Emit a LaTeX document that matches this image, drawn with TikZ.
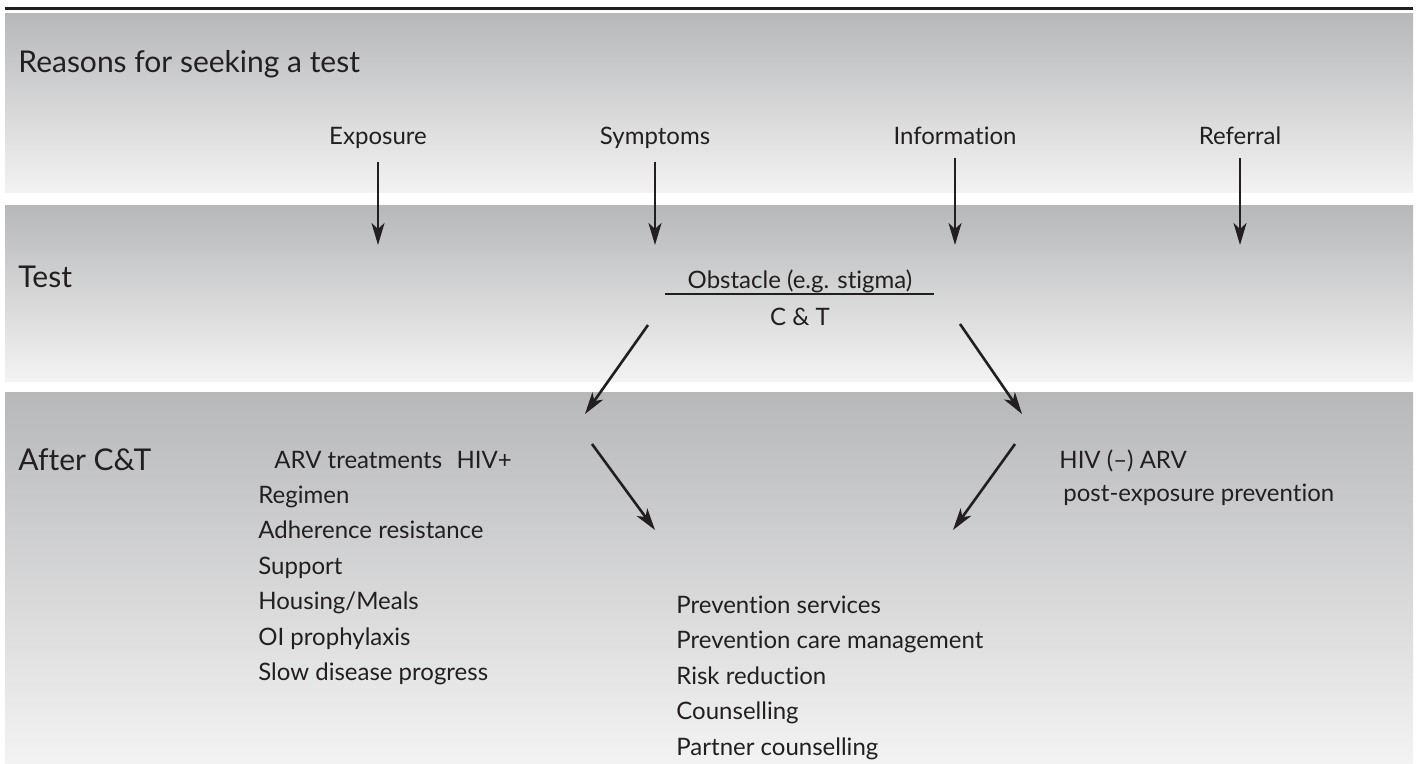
\documentclass[tikz,border=0pt]{standalone}
\usepackage{fontspec}
\setmainfont{Lato}[Ligatures=CommonOff]
\usetikzlibrary{arrows.meta}
\definecolor{bandtop}{HTML}{B7B8BA}
\definecolor{bandbot}{HTML}{F3F3F3}
\definecolor{ink}{HTML}{231F20}
\tikzset{
  band/.style={top color=bandtop,bottom color=bandbot,draw=none},
  txt/.style={inner sep=0pt,text=ink,font=\fontsize{12}{15}\selectfont},
  head/.style={txt,anchor=base west,font=\fontsize{15}{18}\selectfont},
  item/.style={txt,anchor=base west},
  reason/.style={txt,anchor=base},
  arr/.style={-{Stealth[length=11pt,width=6.5pt,inset=3pt]},line width=1.3pt,draw=ink},
}
\begin{document}
\begin{tikzpicture}[x=0.5pt,y=-0.5pt,line cap=butt]
\useasboundingbox (0,0) rectangle (1416,764);
% background bands
\draw[line width=1.3pt,draw=ink] (5,8.7)--(1413,8.7);
\fill[band] (5,14) rectangle (1413,193);
\fill[band] (5,206) rectangle (1413,381);
\fill[band] (5,392) rectangle (1413,764);

% row titles
\node[head] (reasons) at (18,73) {Reasons for seeking a test};
\node[head] (test) at (18,288) {Test};
\node[head] (after) at (18,470) {After C\&T};

% reasons and arrows down
\foreach \name/\x in {Exposure/378,Symptoms/655,Information/955,Referral/1240}{
  \node[reason] (\name) at (\x,145) {\name};
  \coordinate (\name-end) at (\x,245);
  \draw[arr] ([yshift=-6pt]\name.south) -- (\name-end);
}

% test row
\node[reason] (obst) at (800,289) {Obstacle (e.g. stigma)};
\draw[line width=1pt,draw=ink] (665,294) -- (934,294);
\node[reason] (ct) at (800,325) {C \& T};
\coordinate (ct-l) at (648,325);
\coordinate (ct-r) at (960,324);

% after C&T
\node[item] (arv) at (274,468) {ARV treatments\hspace{0.6em}HIV+};
\foreach \t [count=\i] in {Regimen,Adherence resistance,Support,Housing/Meals,OI prophylaxis,Slow disease progress}
  \node[item] (arv\i) at (258,{503+35.5*(\i-1)}) {\t};

\node[item] (neg) at (1059,468) {HIV (–) ARV};
\node[item] (pep) at (1063,501) {post-exposure prevention};

\foreach \t [count=\i] in {Prevention services,Prevention care management,Risk reduction,Counselling,Partner counselling}
  \node[item] (prev\i) at (676,{613+35.5*(\i-1)}) {\t};

% diagonal arrows
\coordinate (arv-in) at (585,414);
\coordinate (neg-in) at (1022,414);
\coordinate (arv-out) at (592,444);
\coordinate (neg-out) at (1015,444);
\coordinate (prev-l) at (655,530);
\coordinate (prev-r) at (953,530);
\draw[arr] (ct-l) -- (arv-in);
\draw[arr] (ct-r) -- (neg-in);
\draw[arr] (arv-out) -- (prev-l);
\draw[arr] (neg-out) -- (prev-r);
\end{tikzpicture}
\end{document}
